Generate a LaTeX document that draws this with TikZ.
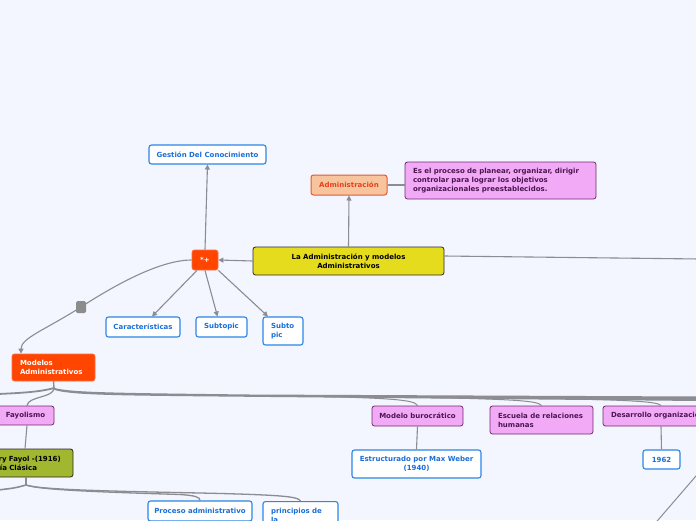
\documentclass[tikz,border=0pt]{standalone}
\usepackage{fontspec}
\setmainfont{DejaVu Sans}
\usetikzlibrary{arrows.meta}
\definecolor{bgc}{RGB}{243,246,254}
\definecolor{linec}{RGB}{140,140,146}
\definecolor{bluebd}{RGB}{44,135,230}
\definecolor{bluetx}{RGB}{26,111,216}
\definecolor{pinkfl}{RGB}{242,170,247}
\definecolor{pinkbd}{RGB}{107,44,110}
\definecolor{pinktx}{RGB}{75,22,80}
\definecolor{orfl}{RGB}{255,69,0}
\definecolor{orbd}{RGB}{245,110,70}
\definecolor{admfl}{RGB}{247,196,158}
\definecolor{admbd}{RGB}{232,88,44}
\definecolor{admtx}{RGB}{232,64,26}
\definecolor{yelfl}{RGB}{230,220,30}
\definecolor{olvfl}{RGB}{160,183,47}
\definecolor{darkbd}{RGB}{40,40,40}
\definecolor{sqc}{RGB}{140,140,140}
\newcommand\fnt{\fontsize{7}{9}\selectfont\bfseries}
\tikzset{
  box/.style={rounded corners=2.5pt, line width=0.8pt, inner sep=0pt, font=\fnt, align=center},
  bluebox/.style={box, draw=bluebd, fill=white, text=bluetx, line width=1.1pt},
  pinkbox/.style={box, draw=pinkbd, fill=pinkfl, text=pinktx},
  orbox/.style={box, draw=orbd, fill=orfl, text=white},
  admbox/.style={box, draw=admbd, fill=admfl, text=admtx, line width=1pt},
  yelbox/.style={box, draw=darkbd, fill=yelfl, text=black},
  olvbox/.style={box, draw=darkbd, fill=olvfl, text=black},
  lefttext/.style={align=left, inner xsep=8pt, text width=#1},
  conn/.style={draw=linec, line width=1.1pt},
  arr/.style={conn, -{Triangle[length=5pt,width=5pt]}},
  branch/.style={draw=linec, line width=1.4pt, line cap=round}
}
\begin{document}
\begin{tikzpicture}[x=1pt,y=-1pt]
\useasboundingbox (0,0) rectangle (696,520);
\clip (0,0) rectangle (696,520);
\fill[bgc] (0,0) rectangle (696,520);

% coordinates
\coordinate (mr) at (700,259);
\coordinate (sqp) at (81,307);
\coordinate (br) at (54,388);
\coordinate (lft) at (-2,394);
\coordinate (hb) at (26,485);
\coordinate (hl) at (-2,490);
\coordinate (dg1) at (702,469);
\coordinate (dg2) at (652,527);

% upper nodes
\node[bluebox, minimum width=117pt, minimum height=19pt] (ges) at (207.5,154.5) {Gestión Del Conocimiento};
\node[admbox, minimum width=76pt, minimum height=20pt] (adm) at (349,185) {Administración};
\node[pinkbox, lefttext=175pt, minimum height=37pt] (def) at (500.5,180.5) {Es el proceso de planear, organizar, dirigir\\controlar para lograr los objetivos\\organizacionales preestablecidos.};
\node[yelbox, minimum width=191pt, minimum height=28pt] (main) at (348.5,261) {La Administración y modelos\\Administrativos};
\node[orbox, minimum width=26pt, minimum height=20pt] (plus) at (205,260) {*+};
\node[bluebox, minimum width=74pt, minimum height=20pt] (car) at (143,327) {Características};
\node[bluebox, minimum width=51pt, minimum height=20pt] (sub) at (221.5,327) {Subtopic};
\node[bluebox, lefttext=24pt, minimum height=28pt] (sp) at (283,331) {Subto\\pic};
\node[orbox, lefttext=67pt, minimum height=27pt] (mod) at (53.5,367.5) {Modelos\\Administrativos};

% edges
\draw[arr] (plus.north) -- (ges.south);
\draw[arr] (main.west) -- (plus.east);
\draw[arr] (main.north) -- (adm.south);
\draw[conn] (adm.east) -- (def.west |- adm.east);
\draw[conn] ([yshift=5pt]main.east) -- (mr);
\draw[arr] ([xshift=-8pt]plus.south) -- ([xshift=9pt]car.north);
\draw[arr] (plus.south) -- ([xshift=-4pt]sub.north);
\draw[arr] (plus.south east) -- ([xshift=-15pt]sp.north);
\draw[conn] (plus.west) .. controls (160,260) and (115,285) .. (sqp);
\draw[arr] (sqp) .. controls (45,330) and (21,338) .. ([xshift=-32.5pt]mod.north);
\node[fill=sqc, rounded corners=1.5pt, minimum width=10pt, minimum height=12pt, inner sep=0pt] (sq) at (sqp) {};

% lower nodes
\node[pinkbox, minimum width=57pt, minimum height=19pt] (fay) at (25.5,415.5) {Fayolismo};
\node[olvbox, lefttext=82pt, minimum height=28pt] (hen) at (24,463) {Henry Fayol -(1916)\\Teoría Clásica};
\node[bluebox, minimum width=104pt, minimum height=20pt] (pro) at (200,511) {Proceso administrativo};
\node[bluebox, lefttext=59pt, minimum height=28pt, anchor=north] (pri) at (300.5,501) {principios de\\la};
\node[pinkbox, minimum width=91pt, minimum height=20pt] (bur) at (417.5,416) {Modelo burocrático};
\node[pinkbox, lefttext=87pt, minimum height=28pt] (esc) at (541.5,420) {Escuela de relaciones\\humanas};
\node[pinkbox, lefttext=110pt, minimum height=20pt] (des) at (666,416) {Desarrollo organizacional};
\node[bluebox, minimum width=129pt, minimum height=28pt] (est) at (416.5,464) {Estructurado por Max Weber\\(1940)};
\node[bluebox, minimum width=37pt, minimum height=19pt] (y62) at (661.5,459.5) {1962};

% mind-map branches from Modelos
\draw[branch] (mod.south) -- (br);
\draw[branch, line width=1.8pt] (br) .. controls (40,392) and (20,393) .. (lft);
\draw[branch, line width=1.2pt] (br) .. controls (54,398) and (28,396) .. (fay.north -| 27,0);
\fill[linec] (55,388) .. controls (70,392.5) and (120,393) .. (250,394.5) -- (700,396.5) -- (700,401) -- (250,396.8) .. controls (120,395.5) and (70,395.5) .. (53,389.5) -- cycle;
\draw[branch, line width=1pt] (300,396) .. controls (395,398) and (415,400) .. (bur.north);
\draw[branch, line width=1pt] (430,397.5) .. controls (520,399.5) and (538,401) .. (esc.north);
\draw[branch, line width=1pt] (560,398.5) .. controls (640,400.5) and (658,402) .. ([xshift=-5pt]des.north);
\draw[conn] (fay.south -| 27,0) -- (hen.north -| 25,0);
\draw[conn] (bur.south) -- (est.north);
\draw[conn] ([xshift=-5pt]des.south) -- (y62.north);
\draw[conn, line width=1pt] (dg1) -- (dg2);

% branches from Henry Fayol
\draw[branch] (hen.south -| hb) -- (hb);
\draw[branch, line width=1.6pt] (hb) .. controls (15,488) .. (hl);
\draw[branch, line width=1.3pt] (hb) .. controls (40,490) and (100,492) .. (180,494.5) .. controls (195,495.5) and (200,497) .. (pro.north);
\draw[branch, line width=1.3pt] (hb) .. controls (40,489.5) and (100,491) .. (200,493) .. controls (290,495) and (298,497) .. (pri.north);
\end{tikzpicture}
\end{document}
